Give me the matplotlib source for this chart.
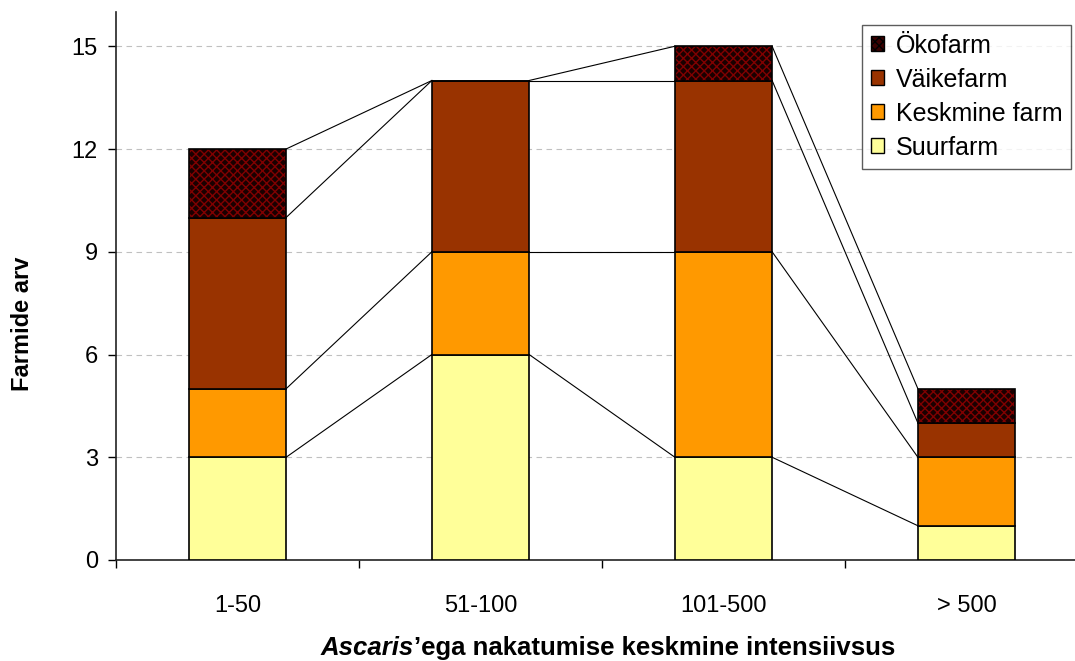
import matplotlib
matplotlib.use("Agg")
import matplotlib.pyplot as plt
from matplotlib.patches import Patch
import numpy as np

plt.rcParams['font.family'] = ['Liberation Sans', 'DejaVu Sans']

categories = ["1-50", "51-100", "101-500", "> 500"]
series_names = ["Suurfarm", "Keskmine farm", "Väikefarm", "Ökofarm"]
suurfarm = [3, 6, 3, 1]
keskmine = [2, 3, 6, 2]
vaike = [5, 5, 5, 1]
oko = [2, 0, 1, 1]
y_ticks = [0, 3, 6, 9, 12, 15]

colors = ["#FFFF99", "#FF9900", "#993300", "#1a0000"]

W, H = 1075, 661
fig = plt.figure(figsize=(W / 100, H / 100), dpi=100)
ax = fig.add_axes([116 / W, 1 - 560 / H, (1088 - 116) / W, (560 - 12) / H])

x = np.arange(len(categories))
width = 0.40
stack = [suurfarm, keskmine, vaike, oko]
bottom = np.zeros(len(categories))
tops = []
for i, vals in enumerate(stack):
    vals = np.array(vals, dtype=float)
    if i == 3:
        # hatched fill first, then a black outline on top
        ax.bar(x, vals, width, bottom=bottom, color=colors[i], edgecolor="#800000",
               hatch="xxxx", linewidth=0, zorder=3)
        ax.bar(x, vals, width, bottom=bottom, fill=False, edgecolor="black",
               linewidth=1.2, zorder=4)
    else:
        ax.bar(x, vals, width, bottom=bottom, color=colors[i], edgecolor="black",
               linewidth=1.2, zorder=3)
    bottom = bottom + vals
    tops.append(bottom.copy())

# series lines between neighbouring columns
for level in tops:
    for j in range(len(categories) - 1):
        ax.plot([x[j] + width / 2, x[j + 1] - width / 2], [level[j], level[j + 1]],
                color="black", linewidth=0.8, zorder=2)

ax.set_xlim(-0.5, len(categories) - 0.5)
ax.set_ylim(0, 16)
ax.set_yticks(y_ticks)
ax.set_yticklabels([str(v) for v in y_ticks], fontsize=17)
ax.yaxis.grid(True, linestyle=(0, (5, 4)), color="#c0c0c0", linewidth=0.8, zorder=0)
ax.set_axisbelow(True)

ax.set_xticks(np.arange(-0.5, len(categories) - 0.4, 1.0))
ax.set_xticklabels([])
ax.set_xticks(x, minor=True)
ax.set_xticklabels(categories, minor=True, fontsize=17)
ax.tick_params(axis="x", which="minor", length=0, pad=25)
ax.tick_params(axis="x", which="major", length=6, direction="out", width=1)
ax.tick_params(axis="y", length=6, direction="out", width=1, pad=7)

for s in ["top", "right"]:
    ax.spines[s].set_visible(False)
for s in ["left", "bottom"]:
    ax.spines[s].set_linewidth(1.2)
    ax.spines[s].set_color("#222222")

fig.text(23 / W, 1 - 324 / H, "Farmide arv", fontsize=17, fontweight="bold",
         rotation=90, ha="center", va="center")

# x axis title: italic genus name followed by the rest
t1 = fig.text(0.0, 1 - 655 / H, "Ascaris", fontsize=18.5, fontweight="bold",
              fontstyle="italic", ha="left", va="baseline")
t2 = ax.annotate("’ega nakatumise keskmine intensiivsus", xy=(1, 0), xycoords=t1,
                 ha="left", va="bottom", fontsize=18.5, fontweight="bold",
                 annotation_clip=False)
fig.canvas.draw()
r = fig.canvas.get_renderer()
w1 = t1.get_window_extent(r).width
w2 = t2.get_window_extent(r).width
center_px = (315 + 900) / 2
t1.set_x((center_px - (w1 + w2) / 2) / W)

handles = [
    Patch(facecolor="#3a0000", edgecolor="black", hatch="xxxx", label="Ökofarm"),
    Patch(facecolor=colors[2], edgecolor="black", label="Väikefarm"),
    Patch(facecolor=colors[1], edgecolor="black", label="Keskmine farm"),
    Patch(facecolor=colors[0], edgecolor="black", label="Suurfarm"),
]
leg = ax.legend(handles=handles, loc="upper right",
                bbox_to_anchor=(1071 / W, 1 - 25 / H), bbox_transform=fig.transFigure,
                borderaxespad=0, fontsize=18, frameon=True, fancybox=False,
                handlelength=0.55, handleheight=0.55, handletextpad=0.45,
                labelspacing=0.4, borderpad=0.35)
leg.get_frame().set_edgecolor("#333333")
leg.get_frame().set_linewidth(1.0)

fig.savefig("out.png", dpi=100)
